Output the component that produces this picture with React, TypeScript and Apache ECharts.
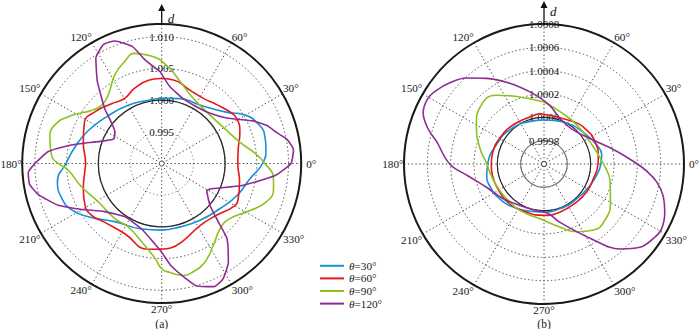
import { useEffect, useRef } from 'react';
import * as echarts from 'echarts';

const FONT = 'Liberation Serif, serif';

const seriesNames = ['θ=30°', 'θ=60°', 'θ=90°', 'θ=120°'];
const seriesColors = ['#1591D8', '#E8161B', '#8DC21F', '#8F2C94'];

// radial tick labels shown on each panel
const leftRadialTicks = [0.995, 1.0, 1.005, 1.01];
const rightRadialTicks = [0.9998, 1.0, 1.0002, 1.0004, 1.0006, 1.0008];
const panelLabels = ['(a)', '(b)'];

// panel (a): [angle in degrees, d]
const leftTheta30: [number, number][] = [
  [0, 1.0059], [8, 1.0066], [14, 1.0068], [21, 1.0066], [31, 1.005], [38, 1.0031], [57, 1.001],
  [74, 1.00065], [90, 1.0003], [102, 1.0002], [120, 1.0006], [138, 1.0013], [156, 1.0027],
  [169, 1.0039], [180, 1.0051], [190, 1.0067], [199, 1.0067], [207, 1.006], [216, 1.0043],
  [231, 1.0018], [253, 1.0008], [270, 1.0005], [286, 1.0004], [304, 1.0008], [322, 1.0016],
  [337, 1.0029], [350, 1.0041],
];
const leftTheta60: [number, number][] = [
  [0, 1.002], [11, 1.0023], [22, 1.0033], [31, 1.0038], [37, 1.0035], [47, 1.0027], [57, 1.0022],
  [69, 1.0024], [82, 1.0033], [91, 1.0034], [99, 1.0033], [110, 1.0026], [120, 1.0018],
  [130, 1.0023], [142, 1.0033], [152, 1.0038], [165, 1.0028], [180, 1.002], [186, 1.0022],
  [198, 1.003], [209, 1.0038], [217, 1.0037], [226, 1.0029], [242, 1.0025], [261, 1.0037],
  [270, 1.0035], [276, 1.0034], [286, 1.0026], [302, 1.0015], [317, 1.0019], [329, 1.0032],
  [335, 1.0033], [347, 1.0026],
];
const leftTheta90: [number, number][] = [
  [0, 1.0063], [7, 1.0046], [15, 1.0028], [27, 1.0015], [45, 1.0008], [64, 1.0014], [77, 1.0032],
  [85, 1.005], [91, 1.0064], [97, 1.0072], [104, 1.0079], [110, 1.0071], [118, 1.0058],
  [128, 1.0037], [136, 1.0032], [143, 1.0039], [152, 1.0061], [160, 1.0079], [167, 1.0081],
  [176, 1.0074], [180, 1.0063], [184, 1.0048], [196, 1.0032], [211, 1.0017], [230, 1.0014],
  [242, 1.0013], [256, 1.0028], [266, 1.005], [270, 1.0066], [274, 1.0072], [281, 1.008],
  [286, 1.0078], [293, 1.0071], [302, 1.0053], [312, 1.0038], [321, 1.0038], [332, 1.0058],
  [340, 1.0076], [347, 1.0081], [352, 1.0078],
];
const leftTheta120: [number, number][] = [
  [0, 1.0104], [6, 1.0109], [11, 1.0101], [15, 1.0088], [20, 1.0076], [25, 1.0059], [35, 1.0025],
  [46, 1.001], [58, 1.0005], [72, 1.0008], [84, 1.0022], [91, 1.0045], [99, 1.0065], [104, 1.009],
  [111, 1.0107], [116, 1.0109], [122, 1.0096], [128, 1.0065], [136, 1.0025], [146, 0.9989],
  [153, 0.9985], [161, 1.0006], [166, 1.003], [170, 1.0055], [174, 1.008], [180, 1.01],
  [184, 1.0111], [189, 1.0111], [194, 1.0101], [202, 1.0076], [210, 1.0045], [220, 1.0018],
  [236, 1.0002], [253, 1.0008], [265, 1.0027], [270, 1.004], [275, 1.0061], [281, 1.0082],
  [286, 1.0101], [293, 1.0111], [298, 1.0106], [304, 1.0088], [311, 1.0057], [314, 1.0029],
  [319, 1.0001], [329, 0.9983], [332, 0.9986], [345, 1.0033], [354, 1.008],
];

// panel (b): [angle in degrees, d]
const rightTheta30: [number, number][] = [
  [0, 1.000087], [9, 1.000101], [20, 1.00008], [34, 1.000042], [60, 1.000003], [90, 0.999977],
  [104, 0.999981], [135, 1.000014], [158, 1.00004], [178, 1.00008], [191, 1.0001],
  [205, 1.000099], [218, 1.000083], [234, 1.000054], [257, 1.000017], [270, 1.000011],
  [290, 1.000007], [313, 1.000009], [335, 1.000035], [352, 1.000071],
];
const rightTheta60: [number, number][] = [
  [0, 1.000063], [9, 1.000071], [24, 1.000077], [38, 1.000068], [55, 1.000041], [95, 1.000035],
  [103, 1.000025], [128, 1.000027], [150, 1.000039], [166, 1.00005], [180, 1.000052],
  [192, 1.000053], [212, 1.000049], [229, 1.00005], [250, 1.000039], [270, 1.00004],
  [288, 1.000034], [311, 1.000029], [327, 1.000037], [343, 1.000041],
];
const rightTheta90: [number, number][] = [
  [0, 1.00011], [26, 1.000037], [50, 1.000037], [73, 1.000069], [90, 1.000131], [112, 1.000224],
  [125, 1.00032], [137, 1.000337], [150, 1.000269], [166, 1.000167], [180, 1.000089],
  [188, 1.000071], [204, 1.000047], [223, 1.000039], [246, 1.000049], [266, 1.000071],
  [284, 1.000157], [296, 1.000246], [307, 1.000308], [317, 1.000311], [330, 1.000258],
  [345, 1.000186],
];
const rightTheta120: [number, number][] = [
  [0, 1.0004], [10, 1.000232], [26, 1.00007], [49, 0.999985], [70, 1.000011], [85, 1.000108],
  [99, 1.000213], [113, 1.000352], [124, 1.000485], [132, 1.000592], [139, 1.000664],
  [146, 1.00072], [151, 1.000743], [157, 1.000725], [163, 1.00064], [168, 1.000543],
  [180, 1.000408], [189, 1.000258], [202, 1.000132], [220, 1.00006], [240, 1.00001],
  [257, 1.000003], [275, 1.000027], [285, 1.000116], [302, 1.000352], [312, 1.00058],
  [319, 1.000688], [326, 1.000735], [331, 1.000751], [338, 1.000716], [345, 1.000657],
  [351, 1.000578], [356, 1.000483],
];

const leftSeries = [leftTheta30, leftTheta60, leftTheta90, leftTheta120];
const rightSeries = [rightTheta30, rightTheta60, rightTheta90, rightTheta120];

const PA = { cx: 161.7, cy: 163.5, r: 139.5, min: 0.99, max: 1.012, step: 0.005, digits: 3 };
const PB = { cx: 544, cy: 164, r: 140, min: 0.9996, max: 1.0008, step: 0.0002, digits: 4 };

const ANGLE_FONT = 11.2;

// angle axis runs from 90 to 450 so that the radial axis (and its labels) sits on the vertical
function toPolarData(pts: [number, number][]) {
  const mapped = pts
    .map(([a, v]) => [v, a < 90 ? a + 360 : a] as [number, number])
    .sort((p, q) => p[1] - q[1]);
  mapped.push([mapped[0][0], mapped[0][1] + 360]);
  return mapped;
}

const dotted = { color: '#4a4a4a', width: 1, type: [1.4, 2.4] as number[] };
const clear = 'rgba(0,0,0,0)';

function mainAngleAxis(idx: number) {
  return {
    polarIndex: idx,
    type: 'value',
    min: 90,
    max: 450,
    interval: 30,
    startAngle: 90,
    clockwise: false,
    axisLine: { show: true, lineStyle: { color: '#1a1a1a', width: 2 } },
    axisTick: { show: false },
    axisLabel: {
      show: true,
      margin: 0.5,
      color: '#1a1a1a',
      fontSize: ANGLE_FONT,
      fontFamily: FONT,
      formatter: (v: number) => {
        const d = Math.round(v) % 360;
        if (d === 90) return '';
        if (d === 0) return '{p|0°}';
        return d + '°';
      },
      rich: {
        p: { padding: [0, 0, 0, 4.5], fontSize: ANGLE_FONT, fontFamily: FONT, color: '#1a1a1a' },
      },
    },
    splitLine: { show: true, lineStyle: dotted },
  };
}

function hiddenAngleAxis(idx: number) {
  return {
    polarIndex: idx,
    type: 'value',
    min: 90,
    max: 450,
    startAngle: 90,
    clockwise: false,
    axisLine: { show: false },
    axisTick: { show: false },
    axisLabel: { show: false },
    splitLine: { show: false },
  };
}

export default function App() {
  const ref = useRef<HTMLDivElement>(null);

  useEffect(() => {
    if (!ref.current) return;
    const chart = echarts.init(ref.current, null, { renderer: 'svg' });

    const series: any[] = [];
    [leftSeries, rightSeries].forEach((group, pi) => {
      group.forEach((pts, si) => {
        const isPurple = si === 3;
        series.push({
          name: seriesNames[si],
          type: 'line',
          coordinateSystem: 'polar',
          polarIndex: pi,
          data: toPolarData(pts),
          showSymbol: false,
          symbol: 'none',
          smooth: isPurple ? (pi === 0 ? 0.15 : 0.4) : 0.5,
          clip: false,
          color: seriesColors[si],
          itemStyle: { color: seriesColors[si] },
          lineStyle: { color: seriesColors[si], width: 1.6 },
          silent: true,
        });
      });
    });

    const radialFormatter = (ticks: number[], digits: number) => (v: number) =>
      ticks.some((t) => Math.abs(t - v) < 1e-9) ? v.toFixed(digits) : '';

    const option: any = {
      animation: false,
      textStyle: { fontFamily: FONT },
      title: [PA, PB].map((p, i) => ({
        text: panelLabels[i],
        left: p.cx,
        top: 318,
        textAlign: 'center',
        padding: 0,
        textStyle: { fontFamily: FONT, fontSize: 11.5, lineHeight: 11, fontWeight: 'normal', color: '#1a1a1a' },
      })),
      legend: {
        orient: 'vertical',
        left: 315,
        top: 254.5,
        itemWidth: 24,
        itemHeight: 2,
        itemGap: 0,
        icon: 'rect',
        selectedMode: false,
        data: seriesNames,
        formatter: (name: string) => '{i|θ}' + name.slice(1),
        textStyle: {
          fontFamily: FONT,
          fontSize: 11.2,
          color: '#1a1a1a',
          lineHeight: 12.6,
          rich: { i: { fontStyle: 'italic', fontFamily: FONT, fontSize: 11.2, lineHeight: 12.6, color: '#1a1a1a' } },
        },
      },
      polar: [
        { center: [PA.cx, PA.cy], radius: PA.r },
        { center: [PB.cx, PB.cy], radius: PB.r },
        { center: [PA.cx, PA.cy], radius: PA.r },
        { center: [PB.cx, PB.cy], radius: PB.r },
      ],
      angleAxis: [mainAngleAxis(0), mainAngleAxis(1), hiddenAngleAxis(2), hiddenAngleAxis(3)],
      radiusAxis: [
        {
          polarIndex: 0,
          type: 'value',
          min: PA.min,
          max: PA.max,
          interval: PA.step,
          axisLine: { show: false },
          axisTick: { show: false },
          axisLabel: {
            show: true,
            margin: 0,
            align: 'center',
            verticalAlign: 'middle',
            fontSize: 11,
            fontFamily: FONT,
            color: '#1a1a1a',
            formatter: radialFormatter(leftRadialTicks, PA.digits),
          },
          splitLine: {
            show: true,
            lineStyle: { ...dotted, color: ['#4a4a4a', '#8a8a8a', '#4a4a4a', '#4a4a4a', '#4a4a4a', '#4a4a4a'] },
          },
        },
        {
          polarIndex: 1,
          type: 'value',
          min: PB.min,
          max: PB.max,
          interval: PB.step,
          axisLine: { show: false },
          axisTick: { show: false },
          axisLabel: {
            show: true,
            margin: 0,
            align: 'center',
            verticalAlign: 'middle',
            fontSize: 11,
            fontFamily: FONT,
            color: '#1a1a1a',
            formatter: radialFormatter(rightRadialTicks, PB.digits),
          },
          splitLine: { show: true, lineStyle: dotted },
        },
        {
          polarIndex: 2,
          type: 'value',
          min: PA.min,
          max: PA.max,
          interval: 0.01,
          axisLine: { show: false },
          axisTick: { show: false },
          axisLabel: { show: false },
          splitLine: { show: true, lineStyle: { color: [clear, '#2a2a2a', clear, clear], width: 1.3, type: 'solid' } },
        },
        {
          polarIndex: 3,
          type: 'value',
          min: PB.min,
          max: PB.max,
          interval: PB.step,
          axisLine: { show: false },
          axisTick: { show: false },
          axisLabel: { show: false },
          splitLine: {
            show: true,
            lineStyle: { color: [clear, '#7a7a7a', '#2a2a2a', clear, clear, clear, clear], width: 1.2, type: 'solid' },
          },
        },
      ],
      graphic: [
        ...[
          { p: PA, tip: 4, base: 11, dBottom: 25 },
          { p: PB, tip: 1, base: 8, dBottom: 17.5 },
        ].flatMap(({ p, tip, base, dBottom }) => [
          {
            type: 'line',
            silent: true,
            shape: { x1: p.cx, y1: p.cy - p.r, x2: p.cx, y2: base },
            style: { stroke: '#111', lineWidth: 1.3 },
          },
          {
            type: 'polygon',
            silent: true,
            shape: { points: [[p.cx - 3.5, base], [p.cx + 3.5, base], [p.cx, tip]] },
            style: { fill: '#111' },
          },
          {
            type: 'text',
            silent: true,
            x: p.cx + 6,
            y: dBottom,
            style: { text: 'd', font: 'italic 13px Liberation Serif, serif', fill: '#111', verticalAlign: 'bottom' },
          },
          {
            type: 'circle',
            silent: true,
            shape: { cx: p.cx, cy: p.cy, r: 2.5 },
            style: { fill: '#fff', stroke: '#444', lineWidth: 1 },
            z: 10,
          },
        ]),
      ],
      series,
    };

    chart.setOption(option);
    return () => chart.dispose();
  }, []);

  return (
    <div
      ref={ref}
      style={{ position: 'fixed', left: 0, top: 0, width: 700, height: 329, background: '#fff' }}
    />
  );
}
